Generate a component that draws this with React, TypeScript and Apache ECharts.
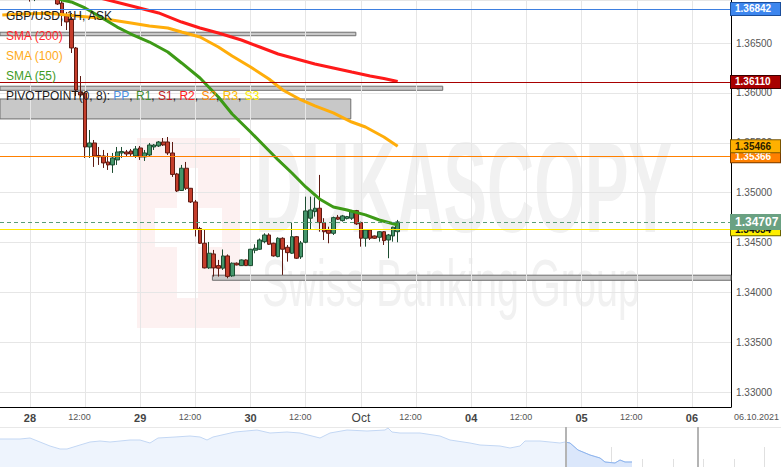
import React, { useEffect, useRef } from 'react';
import * as echarts from 'echarts';

// ---------- DATA ----------
const sessions: [string, number, number][] = [
  ['2021-09-27', 18, 23],
  ['2021-09-28', 0, 23],
  ['2021-09-29', 0, 23],
  ['2021-09-30', 0, 23],
  ['2021-10-01', 0, 23],
  ['2021-10-04', 0, 23],
  ['2021-10-05', 0, 23],
  ['2021-10-06', 0, 8],
];
const dayLabels: Record<string, string> = {
  '2021-09-28': '28', '2021-09-29': '29', '2021-09-30': '30', '2021-10-01': 'Oct',
  '2021-10-04': '04', '2021-10-05': '05', '2021-10-06': '06',
};
const categories: string[] = [];
sessions.forEach(([d, a, b]) => {
  for (let h = a; h <= b; h++) categories.push(`${d} ${String(h).padStart(2, '0')}:00`);
});

// [open, close, low, high] hourly GBP/USD
const candles: number[][] = [
  [1.3716, 1.3712, 1.3708, 1.3720], [1.3712, 1.3715, 1.3709, 1.3719], [1.3715, 1.3710, 1.3706, 1.3717],
  [1.3710, 1.3706, 1.3701, 1.3712], [1.3706, 1.3708, 1.3700, 1.3711], [1.3708, 1.3701, 1.3697, 1.3710],
  [1.3701, 1.3699, 1.36915, 1.3704], [1.3699, 1.3703, 1.3692, 1.3706], [1.3703, 1.3707, 1.3699, 1.3710],
  [1.3707, 1.3704, 1.3700, 1.3712], [1.3704, 1.3706, 1.3698, 1.3709], [1.3706, 1.3702, 1.3697, 1.3708],
  [1.3702, 1.36891, 1.36881, 1.3705], [1.36901, 1.36781, 1.36670, 1.36951], [1.36771, 1.36711, 1.36630, 1.36811],
  [1.36741, 1.36450, 1.36400, 1.36801], [1.36450, 1.36029, 1.35969, 1.36460], [1.36009, 1.35979, 1.35959, 1.36169],
  [1.35999, 1.35458, 1.35348, 1.36009], [1.35458, 1.35498, 1.35348, 1.35628], [1.35498, 1.35368, 1.35258, 1.35528],
  [1.35373, 1.35358, 1.35278, 1.35458], [1.35368, 1.35298, 1.35248, 1.35428], [1.35308, 1.35278, 1.35228, 1.35398],
  [1.35278, 1.35348, 1.35198, 1.35398], [1.35328, 1.35408, 1.35278, 1.35458], [1.35398, 1.35413, 1.35348, 1.35458],
  [1.35408, 1.35388, 1.35358, 1.35428], [1.35418, 1.35388, 1.35368, 1.35438], [1.35368, 1.35438, 1.35348, 1.35468],
  [1.35448, 1.35358, 1.35328, 1.35468], [1.35358, 1.35398, 1.35318, 1.35428], [1.35378, 1.35478, 1.35358, 1.35498],
  [1.35458, 1.35478, 1.35428, 1.35488], [1.35468, 1.35508, 1.35458, 1.35518], [1.35508, 1.35478, 1.35468, 1.35548],
  [1.35508, 1.35398, 1.35378, 1.35558], [1.35398, 1.35183, 1.35158, 1.35508], [1.35188, 1.35017, 1.35007, 1.35198],
  [1.35022, 1.35245, 1.35017, 1.35278], [1.35245, 1.35044, 1.35027, 1.35308], [1.35044, 1.34907, 1.34897, 1.35047],
  [1.34907, 1.34631, 1.34561, 1.34927], [1.34641, 1.34493, 1.34486, 1.34657], [1.34493, 1.34246, 1.34241, 1.34626],
  [1.34246, 1.34393, 1.34236, 1.34506], [1.34386, 1.34246, 1.34159, 1.34426], [1.34269, 1.34243, 1.34159, 1.34326],
  [1.34243, 1.34366, 1.34226, 1.34431], [1.34366, 1.34161, 1.34142, 1.34381], [1.34166, 1.34293, 1.34156, 1.34301],
  [1.34293, 1.34276, 1.34271, 1.34301], [1.34269, 1.34326, 1.34266, 1.34331], [1.34326, 1.34269, 1.34266, 1.34331],
  [1.34269, 1.34433, 1.34266, 1.34436], [1.34423, 1.34443, 1.34393, 1.34483], [1.34433, 1.34526, 1.34426, 1.34541],
  [1.34509, 1.34576, 1.34493, 1.34593], [1.34576, 1.34483, 1.34476, 1.34593], [1.34493, 1.34366, 1.34359, 1.34499],
  [1.34359, 1.34543, 1.34353, 1.34553], [1.34543, 1.34433, 1.34176, 1.34553], [1.34453, 1.34399, 1.34309, 1.34476],
  [1.34393, 1.34559, 1.34386, 1.34700], [1.34559, 1.34343, 1.34336, 1.34566], [1.34356, 1.34496, 1.34336, 1.34516],
  [1.34503, 1.34817, 1.34493, 1.34960], [1.34744, 1.34827, 1.34626, 1.34960], [1.34810, 1.34844, 1.34760, 1.34954],
  [1.34844, 1.34700, 1.34609, 1.35178], [1.34700, 1.34609, 1.34526, 1.34744], [1.34626, 1.34593, 1.34493, 1.34659],
  [1.34593, 1.34750, 1.34576, 1.34760], [1.34754, 1.34734, 1.34727, 1.34777], [1.34720, 1.34767, 1.34710, 1.34777],
  [1.34740, 1.34760, 1.34732, 1.34767], [1.34744, 1.34820, 1.34727, 1.34827], [1.34820, 1.34687, 1.34677, 1.34827],
  [1.34700, 1.34543, 1.34459, 1.34710], [1.34543, 1.34626, 1.34459, 1.34633], [1.34626, 1.34543, 1.34526, 1.34633],
  [1.34566, 1.34543, 1.34536, 1.34571], [1.34553, 1.34609, 1.34509, 1.34616], [1.34609, 1.34519, 1.34476, 1.34616],
  [1.34526, 1.34576, 1.34343, 1.34586], [1.34566, 1.34654, 1.34509, 1.34659], [1.34609, 1.34707, 1.34503, 1.34727],
];

// [candle index, value]
const sma200 = [[15, 1.37021], [23, 1.36931], [29, 1.36861], [34, 1.36801], [39, 1.3671], [43, 1.3665], [47, 1.366],
  [52, 1.3653], [56, 1.3646], [60, 1.3639], [64, 1.3634], [68, 1.3629], [72, 1.3625], [76, 1.36209], [80, 1.36169],
  [83, 1.36144], [86, 1.36114]];
const sma100 = [[0, 1.36781], [4, 1.36791], [10, 1.36798], [14, 1.36781], [21, 1.3675], [28, 1.367], [32, 1.3667],
  [36, 1.3665], [39, 1.3661], [43, 1.3656], [47, 1.3646], [50, 1.3637], [54, 1.3626], [58, 1.36139], [61, 1.36029],
  [65, 1.35929], [68, 1.35869], [72, 1.35799], [76, 1.35708], [79, 1.35658], [83, 1.35558], [86, 1.35466]];
const sma55 = [[10, 1.36991], [13, 1.36931], [15, 1.36911], [18, 1.36851], [21, 1.36771], [25, 1.3666], [28, 1.3659],
  [32, 1.3651], [36, 1.3641], [39, 1.363], [43, 1.36149], [47, 1.35959], [50, 1.35789], [54, 1.35608], [57, 1.35468],
  [60, 1.35328], [63, 1.35197], [66, 1.35057], [69, 1.34937], [72, 1.34857], [75, 1.34827], [79, 1.34777],
  [82, 1.34726], [86, 1.34676]];

const pivotNames = ['PP', 'S1', 'S2', 'S3'];
const pivotValues = [1.36842, 1.3611, 1.35366, 1.34634];

// price zones: [start hour, end hour] on the chart time span, [low, high] price
const zoneStart = [0, 0, 0, 46.2];
const zoneEnd = [77.4, 96.3, 76.3, 159];
const zoneLow = [1.36573, 1.36026, 1.35739, 1.34122];
const zoneHigh = [1.36608, 1.36067, 1.35939, 1.34173];

// navigator overview line
const navX = [0, 10, 20, 30, 40, 50, 60, 67, 80, 90, 100, 110, 120, 130, 140, 150, 158, 175, 190, 200, 207, 213, 235, 257,
  270, 287, 300, 320, 330, 347, 367, 385, 388, 392, 400, 420, 440, 450, 470, 480, 500, 510, 520, 525, 540, 560, 565, 570,
  578, 590, 600, 605, 615, 620, 625, 632];
const navY = [28, 28, 28, 29, 25, 21, 18, 18, 22, 25, 26, 25, 26, 27, 27, 24, 29, 30, 31, 30, 27, 30, 35, 37,
  34, 35, 34, 29, 34, 37, 36, 37, 39, 35, 34, 34, 31, 27, 24, 22, 21, 19, 21, 26, 26, 24, 25, 24,
  17, 12, 9, 5, 4, 7, 5, 5];
const navWindow = [566, 698];
const chartDate = '06.10.2021';

// ---------- STYLE ----------
const FONT = '"Liberation Sans", Arial, sans-serif';
const pivotStyle: Record<string, { line: string; bg: string; fg: string; border: string }> = {
  PP: { line: '#3d7fe0', bg: '#3d86ee', fg: '#ffffff', border: '#1c4f9c' },
  S1: { line: '#a80000', bg: '#a80000', fg: '#ffffff', border: '#3a0000' },
  S2: { line: '#ff8000', bg: '#ff8000', fg: '#ffffff', border: '#7a3d00' },
  S3: { line: '#ffe800', bg: '#ffee00', fg: '#111111', border: '#6b6400' },
};

function tag(bg: string, fg: string, border: string, size = 10) {
  return {
    show: true,
    position: 'end',
    distance: 0,
    formatter: (p: any) => Number(p.value).toFixed(5),
    backgroundColor: bg,
    color: fg,
    borderColor: border,
    borderWidth: 1,
    fontSize: size,
    fontWeight: 'bold',
    fontFamily: FONT,
    lineHeight: size + 1,
    padding: [1, 4, 0, 4],
    width: 41,
  };
}

export default function App() {
  const ref = useRef<HTMLDivElement>(null);
  useEffect(() => {
    if (!ref.current) return;
    const chart = echarts.init(ref.current, undefined, { renderer: 'svg' });
    const gridCats = categories.filter((c) => c.endsWith('00:00') || c.endsWith('12:00'));
    const nav = navX.map((x, i) => [x, navY[i]]);
    const navSel = nav.filter((p) => p[0] >= navWindow[0] - 1);
    const last = candles[candles.length - 1];

    const option: any = {
      animation: false,
      backgroundColor: '#ffffff',
      textStyle: { fontFamily: FONT },
      grid: [
        { left: 0, right: 50, top: 0, bottom: 60 },
        { left: 0, right: 0, top: 427, height: 40 },
      ],
      xAxis: [
        {
          type: 'category', gridIndex: 0, data: categories, boundaryGap: true, position: 'bottom',
          axisLine: { show: true, onZero: false, lineStyle: { color: '#000', width: 1 } },
          axisTick: { show: false },
          splitLine: { show: false },
          axisLabel: {
            interval: (_i: number, v: string) => v.endsWith('00:00') || v.endsWith('12:00'),
            margin: 5,
            formatter: (v: string) => {
              const [d, t] = v.split(' ');
              if (t === '00:00') return dayLabels[d] === 'Oct' ? '{m|Oct}' : `{d|${dayLabels[d]}}`;
              return '{t|12:00}';
            },
            rich: {
              d: { fontSize: 11, fontWeight: 'bold', color: '#444', fontFamily: FONT },
              m: { fontSize: 12, color: '#444', fontFamily: FONT },
              t: { fontSize: 9, color: '#555', fontFamily: FONT, padding: [0, 11, 0, 0] },
            },
          },
        },
        { type: 'value', gridIndex: 0, min: 0, max: 159, show: false, position: 'top' },
        {
          type: 'value', gridIndex: 1, min: 0, max: 781, interval: 30.58, position: 'bottom',
          axisLine: { show: false }, axisLabel: { show: false }, splitLine: { show: false },
          axisTick: { show: true, inside: true, length: 8, lineStyle: { color: '#e0e0e0' } },
        },
        {
          type: 'value', gridIndex: 1, min: 0, max: 781, interval: 152.9, position: 'bottom',
          axisLine: { show: false }, axisLabel: { show: false }, splitLine: { show: false },
          axisTick: { show: true, inside: true, length: 20, lineStyle: { color: '#e0e0e0' } },
        },
      ],
      yAxis: [
        {
          type: 'value', gridIndex: 0, position: 'right', min: 1.32852, max: 1.36931,
          splitNumber: 8, minInterval: 0.005, maxInterval: 0.005,
          axisLine: { show: true, onZero: false, lineStyle: { color: '#000', width: 1 } },
          axisTick: { show: false },
          axisLabel: {
            showMinLabel: false, showMaxLabel: false, margin: 5, fontSize: 10, color: '#555', fontFamily: FONT,
            formatter: (v: number) => v.toFixed(5),
          },
          splitLine: { show: true, lineStyle: { color: '#e6e6e6', width: 1 } },
        },
        { type: 'value', gridIndex: 1, min: 0, max: 40, show: false },
      ],
      series: [
        {
          type: 'line', xAxisIndex: 0, yAxisIndex: 0, data: [], silent: true,
          markLine: {
            silent: true, symbol: 'none', z: 1, animation: false,
            label: { show: false },
            lineStyle: { color: '#e6e6e6', width: 1, type: 'solid' },
            data: gridCats.map((c) => ({ xAxis: c })),
          },
        },
        {
          type: 'line', xAxisIndex: 1, yAxisIndex: 0, data: [], silent: true,
          markArea: {
            silent: true,
            itemStyle: { color: '#c8c8c8', borderColor: '#6e6e6e', borderWidth: 1 },
            data: zoneStart.map((s, i) => [
              { xAxis: s, yAxis: zoneHigh[i] },
              { xAxis: zoneEnd[i], yAxis: zoneLow[i] },
            ]),
          },
        },
        {
          type: 'candlestick', xAxisIndex: 0, yAxisIndex: 0, data: candles, barWidth: 4.2, clip: true, z: 3,
          itemStyle: {
            color: '#44956a', color0: '#c43d2b', borderColor: '#1d4d31', borderColor0: '#5e1a12', borderWidth: 1,
          },
          markLine: {
            silent: true, symbol: 'none', precision: 5, animation: false,
            data: [
              ...pivotNames.map((n, i) => ({
                yAxis: pivotValues[i],
                lineStyle: { color: pivotStyle[n].line, width: 1, type: 'solid' },
                label: tag(pivotStyle[n].bg, pivotStyle[n].fg, pivotStyle[n].border),
              })),
              {
                yAxis: last[1],
                lineStyle: { color: '#5a9e78', width: 1, type: [4, 3] },
                label: { ...tag('#6aa182', '#ffffff', '#6aa182', 12), lineHeight: 14, padding: [0, 3, 0, 4], width: 42 },
              },
            ],
          },
        },
        {
          type: 'line', name: 'SMA (200)', data: sma200, symbol: 'none', clip: true, z: 4,
          lineStyle: { color: '#ff1a1a', width: 3 },
        },
        {
          type: 'line', name: 'SMA (100)', data: sma100, symbol: 'none', clip: true, z: 4,
          lineStyle: { color: '#ffad0a', width: 3 },
          markLine: {
            silent: true, symbol: 'none', precision: 5, animation: false,
            data: [{
              yAxis: sma100[sma100.length - 1][1],
              lineStyle: { color: 'transparent', width: 0 },
              label: tag('#ffb000', '#2a2000', '#7a5500'),
            }],
          },
        },
        {
          type: 'line', name: 'SMA (55)', data: sma55, symbol: 'none', clip: true, z: 4,
          lineStyle: { color: '#3d9a16', width: 3 },
        },
        {
          type: 'line', xAxisIndex: 2, yAxisIndex: 1, data: nav, symbol: 'none', silent: true,
          lineStyle: { color: '#c3d7f4', width: 1 },
          areaStyle: { color: '#eef4fd', opacity: 1 },
          markLine: {
            silent: true, symbol: 'none', label: { show: false }, animation: false,
            lineStyle: { color: '#b4b4b4', width: 2, type: 'solid' },
            data: navWindow.map((x) => ({ xAxis: x })),
          },
        },
        {
          type: 'line', xAxisIndex: 2, yAxisIndex: 1, data: navSel, symbol: 'none', silent: true,
          lineStyle: { color: '#8fb5ee', width: 1 },
          areaStyle: { color: '#dbe7fb', opacity: 1 },
        },
      ],
      graphic: {
        elements: [
          { type: 'rect', z: -10, silent: true, shape: { x: 137, y: 138, width: 103, height: 190 }, style: { fill: '#fdf1f1' } },
          { type: 'rect', z: -9, silent: true, shape: { x: 177, y: 168, width: 21, height: 130 }, style: { fill: '#ffffff' } },
          { type: 'rect', z: -9, silent: true, shape: { x: 155, y: 208, width: 67, height: 39 }, style: { fill: '#ffffff' } },
          {
            type: 'text', z: -9, silent: true, x: 255, y: 124, scaleX: 0.51,
            style: { text: 'DUKASCOPY', fontSize: 128, fontWeight: 'bold', fontFamily: FONT, fill: '#f1f1f1', verticalAlign: 'top' },
          },
          {
            type: 'text', z: -9, silent: true, x: 262, y: 249, scaleX: 0.59,
            style: { text: 'Swiss Banking Group', fontSize: 67, fontFamily: FONT, fill: '#f1f1f1', verticalAlign: 'top' },
          },
          { type: 'line', z: 1, silent: true, shape: { x1: 0, y1: 427.5, x2: 781, y2: 427.5 }, style: { stroke: '#e8e8e8', lineWidth: 1 } },
          {
            type: 'text', z: 100, silent: true, x: 6, y: 16,
            style: { text: 'GBP/USD, 1H, ASK', fontSize: 12, fontFamily: FONT, fill: '#1a1a1a', verticalAlign: 'middle' },
          },
          {
            type: 'text', z: 100, silent: true, x: 6, y: 36,
            style: { text: 'SMA (200)', fontSize: 12, fontFamily: FONT, fill: '#ff2a2a', verticalAlign: 'middle' },
          },
          {
            type: 'text', z: 100, silent: true, x: 6, y: 56,
            style: { text: 'SMA (100)', fontSize: 12, fontFamily: FONT, fill: '#ffaa1a', verticalAlign: 'middle' },
          },
          {
            type: 'text', z: 100, silent: true, x: 6, y: 76,
            style: { text: 'SMA (55)', fontSize: 12, fontFamily: FONT, fill: '#3f9b1f', verticalAlign: 'middle' },
          },
          {
            type: 'text', z: 100, silent: true, x: 6, y: 96,
            style: {
              text: 'PIVOTPOINT(0, 8): {pp|PP}, {r1|R1}, {s1|S1}, {r2|R2}, {s2|S2}, {r3|R3}, {s3|S3}',
              fontSize: 12, fontFamily: FONT, fill: '#1a1a1a', verticalAlign: 'middle',
              rich: {
                pp: { fill: '#4a90e2', fontSize: 12, fontFamily: FONT },
                r1: { fill: '#3f8a2e', fontSize: 12, fontFamily: FONT },
                s1: { fill: '#c02020', fontSize: 12, fontFamily: FONT },
                r2: { fill: '#ff2020', fontSize: 12, fontFamily: FONT },
                s2: { fill: '#ff8800', fontSize: 12, fontFamily: FONT },
                r3: { fill: '#ffbb00', fontSize: 12, fontFamily: FONT },
                s3: { fill: '#ffee00', fontSize: 12, fontFamily: FONT },
              },
            },
          },
          {
            type: 'text', z: 100, silent: true, x: 734, y: 417,
            style: { text: chartDate, fontSize: 9, fontFamily: FONT, fill: '#555', verticalAlign: 'middle' },
          },
        ],
      },
    };
    chart.setOption(option);
    return () => chart.dispose();
  }, []);
  return <div ref={ref} style={{ position: 'fixed', left: 0, top: 0, width: 781, height: 467 }} />;
}
